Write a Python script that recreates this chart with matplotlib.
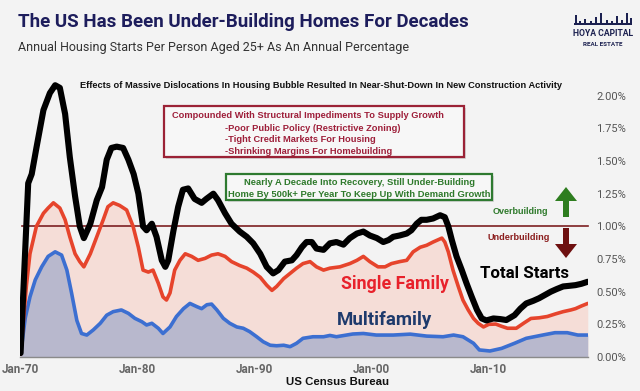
import matplotlib
matplotlib.use("Agg")
import matplotlib.pyplot as plt
from matplotlib.patches import Polygon, Rectangle
import numpy as np

# ---------------- data ----------------
total_years = [1970.05, 1970.7, 1971.0, 1971.4, 1972.0, 1972.55, 1973.0, 1973.4, 1973.85, 1974.25,
               1974.7, 1975.1, 1975.45, 1976.0, 1976.55, 1977.0, 1977.4, 1977.8, 1978.25, 1978.8,
               1979.25, 1979.7, 1980.1, 1980.5, 1980.8, 1981.25, 1981.65, 1982.1, 1982.4, 1982.65,
               1983.1, 1983.5, 1983.9, 1984.35, 1984.9, 1985.5, 1985.9, 1986.5, 1986.9, 1987.5,
               1988.05, 1988.75, 1989.35, 1989.9, 1990.5, 1991.05, 1991.6, 1992.05, 1992.6, 1993.2,
               1993.6, 1994.05, 1994.45, 1994.9, 1995.3, 1995.9, 1996.45, 1997.0, 1997.6, 1998.15,
               1998.75, 1999.3, 1999.85, 2000.45, 2001.0, 2001.45, 2001.85, 2002.4, 2003.0, 2003.4,
               2003.85, 2004.25, 2004.7, 2005.25, 2005.85, 2006.25, 2006.55, 2006.85, 2007.25, 2007.7,
               2008.1, 2008.55, 2009.0, 2009.4, 2009.8, 2010.4, 2011.0, 2011.5, 2012.2, 2012.7,
               2013.2, 2013.8, 2014.3, 2014.8, 2015.3, 2015.8, 2016.35, 2016.9, 2017.4, 2017.9, 2018.45]
total_pct = [0.03, 1.33, 1.40, 1.60, 1.89, 2.02, 2.08, 2.06, 1.86, 1.53,
             1.23, 1.00, 0.91, 1.02, 1.20, 1.30, 1.51, 1.60, 1.61, 1.60,
             1.51, 1.40, 1.25, 1.00, 0.97, 1.02, 0.92, 0.74, 0.69, 0.74,
             0.97, 1.15, 1.28, 1.29, 1.21, 1.18, 1.21, 1.25, 1.20, 1.10,
             1.02, 0.96, 0.92, 0.87, 0.79, 0.69, 0.64, 0.665, 0.73, 0.74,
             0.78, 0.84, 0.88, 0.88, 0.83, 0.82, 0.87, 0.88, 0.86, 0.91,
             0.945, 0.96, 0.93, 0.91, 0.88, 0.895, 0.92, 0.93, 0.945, 0.97,
             1.02, 1.05, 1.05, 1.06, 1.085, 1.07, 1.00, 0.895, 0.77, 0.665,
             0.565, 0.46, 0.36, 0.295, 0.28, 0.295, 0.29, 0.283, 0.32, 0.37,
             0.41, 0.43, 0.45, 0.475, 0.50, 0.52, 0.54, 0.545, 0.55, 0.56, 0.576]

single_years = [1970.05, 1970.55, 1970.85, 1971.4, 1972.0, 1972.4, 1972.85, 1973.4, 1973.85, 1974.25,
                1974.7, 1975.1, 1975.45, 1976.0, 1976.55, 1977.1, 1977.5, 1977.95, 1978.5, 1979.1,
                1979.65, 1980.1, 1980.5, 1980.95, 1981.35, 1981.8, 1982.2, 1982.5, 1982.8, 1983.2,
                1983.65, 1984.1, 1984.65, 1985.2, 1985.8, 1986.35, 1986.9, 1987.5, 1988.05, 1988.75,
                1989.35, 1989.9, 1990.5, 1991.05, 1991.5, 1991.9, 1992.5, 1993.05, 1993.6, 1994.15,
                1994.75, 1995.3, 1995.9, 1996.45, 1997.3, 1998.15, 1998.75, 1999.3, 1999.85, 2000.55,
                2001.15, 2001.7, 2002.4, 2003.0, 2003.55, 2004.15, 2004.7, 2005.25, 2006.0, 2006.25,
                2006.55, 2006.95, 2007.4, 2007.8, 2008.25, 2008.7, 2009.1, 2009.55, 2010.0, 2010.6,
                2011.1, 2011.6, 2012.35, 2013.0, 2013.6, 2014.3, 2015.0, 2015.7, 2016.35, 2017.0,
                2017.4, 2017.9, 2018.45]
single_pct = [0.02, 0.55, 0.79, 1.00, 1.10, 1.14, 1.18, 1.14, 1.05, 0.92,
              0.79, 0.73, 0.69, 0.79, 0.92, 1.05, 1.15, 1.18, 1.16, 1.125,
              1.00, 0.84, 0.665, 0.65, 0.665, 0.565, 0.46, 0.436, 0.49, 0.665,
              0.74, 0.79, 0.77, 0.74, 0.755, 0.78, 0.79, 0.77, 0.73, 0.70,
              0.68, 0.65, 0.61, 0.55, 0.51, 0.54, 0.60, 0.64, 0.68, 0.715,
              0.73, 0.69, 0.665, 0.68, 0.69, 0.715, 0.74, 0.77, 0.73, 0.69,
              0.69, 0.715, 0.73, 0.74, 0.805, 0.84, 0.855, 0.88, 0.91, 0.88,
              0.805, 0.665, 0.54, 0.435, 0.36, 0.295, 0.258, 0.23, 0.25, 0.252,
              0.235, 0.22, 0.22, 0.26, 0.295, 0.30, 0.31, 0.33, 0.347, 0.36,
              0.37, 0.39, 0.41]

multi_years = [1970.05, 1970.45, 1970.85, 1971.3, 1971.85, 1972.4, 1973.0, 1973.55, 1974.0, 1974.4,
               1974.85, 1975.25, 1975.7, 1976.25, 1976.85, 1977.4, 1977.95, 1978.65, 1979.25, 1979.8,
               1980.4, 1980.8, 1981.25, 1981.8, 1982.2, 1982.8, 1983.35, 1983.95, 1984.5, 1985.1,
               1985.5, 1985.95, 1986.35, 1986.8, 1987.35, 1987.9, 1988.5, 1989.05, 1989.6, 1990.2,
               1990.75, 1991.35, 1991.9, 1992.5, 1993.05, 1993.6, 1994.15, 1995.0, 1995.9, 1996.45,
               1997.0, 1998.4, 1999.3, 2000.4, 2001.85, 2003.3, 2004.7, 2006.1, 2007.0, 2007.8,
               2008.7, 2009.2, 2010.1, 2011.1, 2012.2, 2013.2, 2014.6, 2015.65, 2016.7, 2017.6, 2018.45]
multi_pct = [0.02, 0.30, 0.46, 0.59, 0.69, 0.77, 0.805, 0.78, 0.665, 0.49,
             0.28, 0.18, 0.168, 0.207, 0.258, 0.32, 0.347, 0.36, 0.334, 0.296,
             0.27, 0.245, 0.258, 0.22, 0.18, 0.23, 0.31, 0.37, 0.41, 0.385,
             0.37, 0.40, 0.405, 0.36, 0.296, 0.258, 0.23, 0.22, 0.194, 0.155,
             0.117, 0.09, 0.086, 0.09, 0.079, 0.105, 0.143, 0.155, 0.155, 0.165,
             0.155, 0.176, 0.18, 0.168, 0.168, 0.175, 0.16, 0.155, 0.168, 0.155,
             0.105, 0.054, 0.046, 0.066, 0.105, 0.143, 0.168, 0.186, 0.186, 0.168, 0.168]

threshold = 1.00
ytick_vals = [0.0, 0.25, 0.5, 0.75, 1.0, 1.25, 1.5, 1.75, 2.0]
ytick_labels = ["0.00%", "0.25%", "0.50%", "0.75%", "1.00%", "1.25%", "1.50%", "1.75%", "2.00%"]
xtick_vals = [1970, 1980, 1990, 2000, 2010]
xtick_labels = ["Jan-70", "Jan-80", "Jan-90", "Jan-00", "Jan-10"]

# ---------------- figure ----------------
W, H = 640, 391
BG = "#f3f3f3"
fig = plt.figure(figsize=(6.4, 3.91), dpi=100, facecolor=BG)
NARROW = ["Roboto", "Liberation Sans", "DejaVu Sans"]
ARIAL = ["Liberation Sans", "DejaVu Sans"]

def fx(px):
    return px / W

def fy(py):
    return 1 - py / H

ax_l, ax_r, ax_b, ax_t = 20, 588, 357, 80
ax = fig.add_axes([fx(ax_l), fy(ax_b), (ax_r - ax_l) / W, (ax_b - ax_t) / H])
ax.set_facecolor(BG)
ax.set_xlim(1970.0, 2018.47)
ax.set_ylim(0, 2.12)

ax.fill_between(single_years, single_pct, 0, color="#f5ddd7", zorder=1, lw=0)
ax.fill_between(multi_years, multi_pct, 0, color="#b8b8cd", zorder=2, lw=0)
ax.axhline(threshold, xmin=0.004, xmax=1.0, color="#7d1f22", lw=1.2, zorder=3, clip_on=False)
ax.plot(multi_years, multi_pct, color="#3c6fd1", lw=2.6, zorder=4, solid_capstyle="round")
ax.plot(single_years, single_pct, color="#e6442c", lw=2.6, zorder=5, solid_capstyle="round")
ax.plot(total_years, total_pct, color="#000000", lw=4.4, zorder=6, solid_capstyle="round",
        solid_joinstyle="round")

for s in ["top", "left", "right"]:
    ax.spines[s].set_visible(False)
ax.spines["bottom"].set_color("#8a8a8a")
ax.spines["bottom"].set_linewidth(1.0)

ax.yaxis.tick_right()
ax.set_yticks(ytick_vals)
ax.set_yticklabels(ytick_labels, family=NARROW, fontsize=8.0, color="#555555")
ax.tick_params(axis="y", length=0, pad=6)
ax.set_xticks(xtick_vals)
ax.set_xticklabels(xtick_labels, family=NARROW, fontsize=8.4, color="#666666", fontweight="bold")
ax.tick_params(axis="x", length=0, pad=4)

# ---------------- texts ----------------
fig.text(fx(18), fy(22), "The US Has Been Under-Building Homes For Decades", family=NARROW,
         fontsize=13.5, fontweight="bold", color="#1d1d5c", ha="left", va="center")
fig.text(fx(18), fy(48), "Annual Housing Starts Per Person Aged 25+ As An Annual Percentage",
         family=NARROW, fontsize=9.0, color="#333333", ha="left", va="center")
fig.text(fx(321), fy(86), "Effects of Massive Dislocations In Housing Bubble Resulted In "
         "Near-Shut-Down In New Construction Activity", family=ARIAL, fontsize=6.7,
         fontweight="bold", color="#111111", ha="center", va="center")
fig.text(fx(338), fy(382), "US Census Bureau", family=ARIAL, fontsize=8.2,
         fontweight="bold", color="#111111", ha="center", va="center")

def box(x0, y0, x1, y1, edge):
    fig.patches.append(Rectangle((fx(x0 + 2), fy(y1 + 2)), (x1 - x0) / W, (y1 - y0) / H,
                                 transform=fig.transFigure, facecolor="#d6d6d6",
                                 edgecolor="none", zorder=4))
    fig.patches.append(Rectangle((fx(x0), fy(y1)), (x1 - x0) / W, (y1 - y0) / H,
                                 transform=fig.transFigure, facecolor="#f7f7f7",
                                 edgecolor=edge, lw=1.6, zorder=5))

# red box
RED_T = "#9e1f3a"
box(164, 106, 464, 157, "#9b2236")
fig.text(fx(308), fy(116), "Compounded With Structural Impediments To Supply Growth",
         family=ARIAL, fontsize=6.7, fontweight="bold", color=RED_T, ha="center", va="center", zorder=6)
for i, s in enumerate(["-Poor Public Policy (Restrictive Zoning)", "-Tight Credit Markets For Housing",
                       "-Shrinking Margins For Homebuilding"]):
    fig.text(fx(225), fy(128 + i * 11.5), s, family=ARIAL, fontsize=6.7, fontweight="bold",
             color=RED_T, ha="left", va="center", zorder=6)

# green box
GRN = "#2f7a2c"
box(226, 174, 492, 200, "#2e7a30")
fig.text(fx(359), fy(182.5), "Nearly A Decade Into Recovery, Still Under-Building", family=ARIAL,
         fontsize=6.75, fontweight="bold", color=GRN, ha="center", va="center", zorder=6)
fig.text(fx(359), fy(194.5), "Home By 500k+ Per Year To Keep Up With Demand Growth", family=ARIAL,
         fontsize=6.75, fontweight="bold", color=GRN, ha="center", va="center", zorder=6)

fig.text(fx(520), fy(212), "Overbuilding", family=ARIAL, fontsize=6.5, fontweight="bold",
         color="#2f7a2c", ha="center", va="center")
fig.text(fx(519), fy(237), "Underbuilding", family=ARIAL, fontsize=6.6, fontweight="bold",
         color="#8b1d1d", ha="center", va="center")

# arrows
def arrow(cx, y_tail, y_tip, color):
    d = 1 if y_tip > y_tail else -1
    head = 14
    hw, sw = 11, 3
    yb = y_tip - d * head
    pts = [(cx - sw, y_tail), (cx + sw, y_tail), (cx + sw, yb), (cx + hw, yb), (cx, y_tip),
           (cx - hw, yb), (cx - sw, yb)]
    fig.patches.append(Polygon([(fx(a), fy(b)) for a, b in pts], closed=True,
                               transform=fig.transFigure, facecolor=color, edgecolor="none"))

arrow(566, 217, 187, "#2e7d1f")
arrow(566, 228, 258, "#6e1010")

# series labels
fig.text(fx(525), fy(274), "Total Starts", family=NARROW, fontsize=12.2, fontweight="bold",
         color="#000000", ha="center", va="center")
fig.text(fx(395), fy(284), "Single Family", family=NARROW, fontsize=12.8, fontweight="bold",
         color="#e8212b", ha="center", va="center")
fig.text(fx(384), fy(320), "Multifamily", family=NARROW, fontsize=13.4, fontweight="bold",
         color="#1e3a6c", ha="center", va="center")

# logo
NAVY = "#1c2150"
fig.text(fx(603), fy(34), "HOYA CAPITAL", family=NARROW, fontsize=6.2, fontweight="bold",
         color=NAVY, ha="center", va="center")
fig.text(fx(603), fy(45), "REAL ESTATE", family=NARROW, fontsize=4.5, fontweight="bold",
         color=NAVY, ha="center", va="center")
sky_x = [575, 579, 584, 590, 595, 600, 606, 611, 616, 621, 626, 630]
sky_h = [10, 4, 6, 4, 8, 12, 5, 4, 9, 5, 12, 7]
fig.patches.append(Rectangle((fx(574), fy(25)), 58 / W, 1.6 / H, transform=fig.transFigure,
                             facecolor=NAVY, edgecolor="none"))
for sxx, shh in zip(sky_x, sky_h):
    fig.patches.append(Rectangle((fx(sxx), fy(25)), 1.8 / W, shh / H, transform=fig.transFigure,
                                 facecolor=NAVY, edgecolor="none"))

fig.savefig("out.png", dpi=100, facecolor=BG)
